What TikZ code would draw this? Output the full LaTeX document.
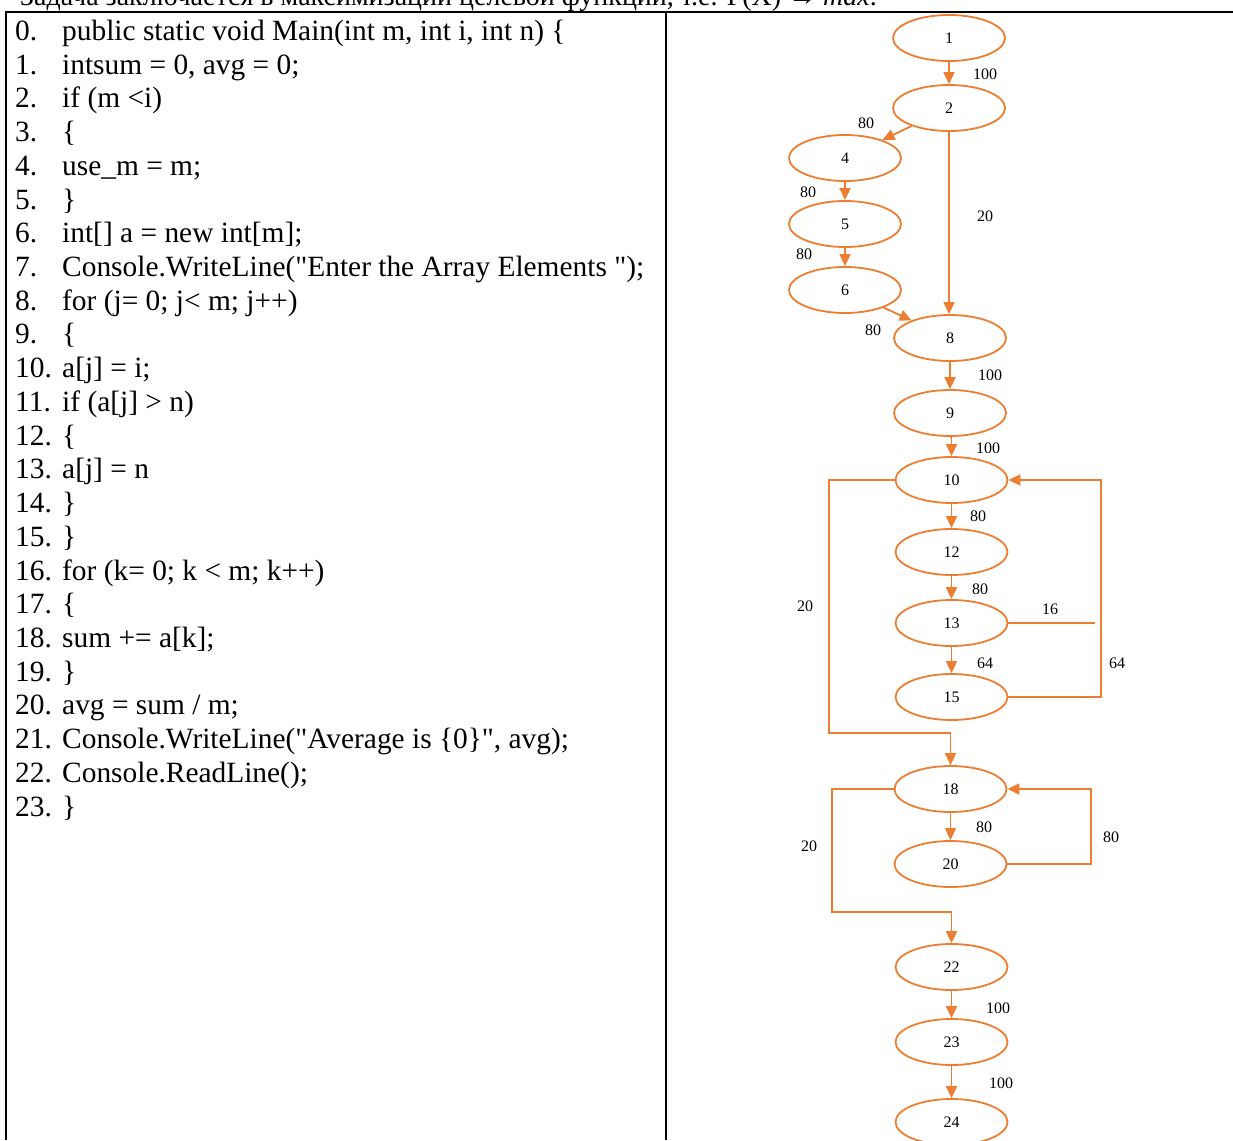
\documentclass[tikz,border=0pt]{standalone}
\usepackage{fontspec}
\setmainfont{Liberation Serif}
\usetikzlibrary{shapes.geometric,arrows.meta}
\definecolor{flow}{HTML}{ED7D31}
\newcommand{\dq}{\textquotedbl}
\tikzset{
  blk/.style={x=1pt,y=-1pt},
  tline/.style={line width=2.4pt,black},
  head/.style={anchor=base west,inner sep=0pt,font=\fontsize{28}{30}\selectfont},
  code/.style={anchor=base west,inner sep=0pt,font=\fontsize{29.4}{31}\selectfont},
  num/.style={anchor=base west,inner sep=0pt,font=\fontsize{29.4}{31}\selectfont},
  st/.style={ellipse,draw=flow,line width=1.8pt,minimum width=112pt,minimum height=46pt,inner sep=0pt,font=\fontsize{16}{18}\selectfont},
  fl/.style={draw=flow,line width=1.8pt},
  fa/.style={fl,-{Triangle[length=12pt,width=11pt]}},
  lb/.style={inner sep=0pt,font=\fontsize{16}{18}\selectfont}
}
\begin{document}
\begin{tikzpicture}[blk]
\useasboundingbox (0,0) rectangle (1233,1140);
\clip (0,0) rectangle (1233,1140);
% cut-off heading
\node[head] (hd) at (20,6) {Задача заключается в максимизации целевой функции, т.е. F(X) → \textit{max}.};
% table
\coordinate (tl) at (5,12);
\coordinate (tr) at (1233,12);
\coordinate (ml) at (6,12);
\coordinate (mlb) at (6,1140);
\coordinate (mm) at (666,12);
\coordinate (mmb) at (666,1140);
\draw[tline] (tl) -- (tr);
\draw[tline] (ml) -- (mlb);
\draw[tline] (mm) -- (mmb);
% code lines
\def\bl{40.5}
\def\ls{33.72}
\node[num] (k0) at (15,{\bl+0*\ls}) {0.};   \node[code] (t0) at (62,{\bl+0*\ls}) {public static void Main(int m, int i, int n) \{};
\node[num] (k1) at (15,{\bl+1*\ls}) {1.};   \node[code] (t1) at (62,{\bl+1*\ls}) {intsum = 0, avg = 0;};
\node[num] (k2) at (15,{\bl+2*\ls}) {2.};   \node[code] (t2) at (62,{\bl+2*\ls}) {if (m <i)};
\node[num] (k3) at (15,{\bl+3*\ls}) {3.};   \node[code] (t3) at (62,{\bl+3*\ls}) {\{};
\node[num] (k4) at (15,{\bl+4*\ls}) {4.};   \node[code] (t4) at (62,{\bl+4*\ls}) {use\_m = m;};
\node[num] (k5) at (15,{\bl+5*\ls}) {5.};   \node[code] (t5) at (62,{\bl+5*\ls}) {\}};
\node[num] (k6) at (15,{\bl+6*\ls}) {6.};   \node[code] (t6) at (62,{\bl+6*\ls}) {int[] a = new int[m];};
\node[num] (k7) at (15,{\bl+7*\ls}) {7.};   \node[code] (t7) at (62,{\bl+7*\ls}) {Console.WriteLine(\dq Enter the Array Elements \dq);};
\node[num] (k8) at (15,{\bl+8*\ls}) {8.};   \node[code] (t8) at (62,{\bl+8*\ls}) {for (j= 0; j< m; j++)};
\node[num] (k9) at (15,{\bl+9*\ls}) {9.};   \node[code] (t9) at (62,{\bl+9*\ls}) {\{};
\node[num] (k10) at (15,{\bl+10*\ls}) {10.}; \node[code] (t10) at (62,{\bl+10*\ls}) {a[j] = i;};
\node[num] (k11) at (15,{\bl+11*\ls}) {11.}; \node[code] (t11) at (62,{\bl+11*\ls}) {if (a[j] > n)};
\node[num] (k12) at (15,{\bl+12*\ls}) {12.}; \node[code] (t12) at (62,{\bl+12*\ls}) {\{};
\node[num] (k13) at (15,{\bl+13*\ls}) {13.}; \node[code] (t13) at (62,{\bl+13*\ls}) {a[j] = n};
\node[num] (k14) at (15,{\bl+14*\ls}) {14.}; \node[code] (t14) at (62,{\bl+14*\ls}) {\}};
\node[num] (k15) at (15,{\bl+15*\ls}) {15.}; \node[code] (t15) at (62,{\bl+15*\ls}) {\}};
\node[num] (k16) at (15,{\bl+16*\ls}) {16.}; \node[code] (t16) at (62,{\bl+16*\ls}) {for (k= 0; k < m; k++)};
\node[num] (k17) at (15,{\bl+17*\ls}) {17.}; \node[code] (t17) at (62,{\bl+17*\ls}) {\{};
\node[num] (k18) at (15,{\bl+18*\ls}) {18.}; \node[code] (t18) at (62,{\bl+18*\ls}) {sum += a[k];};
\node[num] (k19) at (15,{\bl+19*\ls}) {19.}; \node[code] (t19) at (62,{\bl+19*\ls}) {\}};
\node[num] (k20) at (15,{\bl+20*\ls}) {20.}; \node[code] (t20) at (62,{\bl+20*\ls}) {avg = sum / m;};
\node[num] (k21) at (15,{\bl+21*\ls}) {21.}; \node[code] (t21) at (62,{\bl+21*\ls}) {Console.WriteLine(\dq Average is \{0\}\dq, avg);};
\node[num] (k22) at (15,{\bl+22*\ls}) {22.}; \node[code] (t22) at (62,{\bl+22*\ls}) {Console.ReadLine();};
\node[num] (k23) at (15,{\bl+23*\ls}) {23.}; \node[code] (t23) at (62,{\bl+23*\ls}) {\}};
% flow graph nodes
\node[st] (n1) at (949,38) {1};
\node[st] (n2) at (949,108) {2};
\node[st] (n4) at (845,158) {4};
\node[st] (n5) at (845,224) {5};
\node[st] (n6) at (845,290) {6};
\node[st] (n8) at (950,338) {8};
\node[st] (n9) at (950,413) {9};
\node[st] (n10) at (951.5,480) {10};
\node[st] (n12) at (951.5,552) {12};
\node[st] (n13) at (951.5,623) {13};
\node[st] (n15) at (951.5,697) {15};
\node[st] (n18) at (950.5,789) {18};
\node[st] (n20) at (950.5,864) {20};
\node[st] (n22) at (951.5,967) {22};
\node[st] (n23) at (951.5,1042) {23};
\node[st] (n24) at (951.5,1122) {24};
% connectors
\draw[fa] (n1) -- (n2);
\draw[fa] (n2) -- (n4);
\draw[fa] (n2.south) -- (n2.south |- n8.north);
\draw[fa] (n4) -- (n5);
\draw[fa] (n5) -- (n6);
\draw[fa] (n6) -- (n8);
\draw[fa] (n8) -- (n9);
\draw[fa] (n9.south) -- (n9.south -| n10.north) -- (n10.north);
\draw[fa] (n10) -- (n12);
\draw[fa] (n12) -- (n13);
\draw[fa] (n13) -- (n15);
\coordinate (e13) at (1095,623);
\draw[fl] (n13.east) -- (e13);
\draw[fa] (n15.east) -- (1101,697) -- (1101,480) -- (n10.east);
\draw[fa] (n10.west) -- (829,480) -- (829,733) -- (950.5,733) -- (n18.north);
\draw[fa] (n18) -- (n20);
\draw[fa] (n20.east) -- (1091,864) -- (1091,789) -- (n18.east);
\draw[fa] (n18.west) -- (832,789) -- (832,912) -- (951.5,912) -- (n22.north);
\draw[fa] (n22) -- (n23);
\draw[fa] (n23) -- (n24);
% labels
\node[lb] (l1) at (985,74) {100};
\node[lb] (l2) at (866,123) {80};
\node[lb] (l3) at (985,216) {20};
\node[lb] (l4) at (808,192) {80};
\node[lb] (l5) at (804,254) {80};
\node[lb] (l6) at (873,330) {80};
\node[lb] (l7) at (990,375) {100};
\node[lb] (l8) at (988,448) {100};
\node[lb] (l9) at (978,516) {80};
\node[lb] (l10) at (980,589) {80};
\node[lb] (l11) at (985,663) {64};
\node[lb] (l12) at (1050,609) {16};
\node[lb] (l13) at (1117,663) {64};
\node[lb] (l14) at (805,606) {20};
\node[lb] (l15) at (984,827) {80};
\node[lb] (l16) at (1111,837) {80};
\node[lb] (l17) at (809,846) {20};
\node[lb] (l18) at (998,1008) {100};
\node[lb] (l19) at (1001,1083) {100};
\end{tikzpicture}
\end{document}
